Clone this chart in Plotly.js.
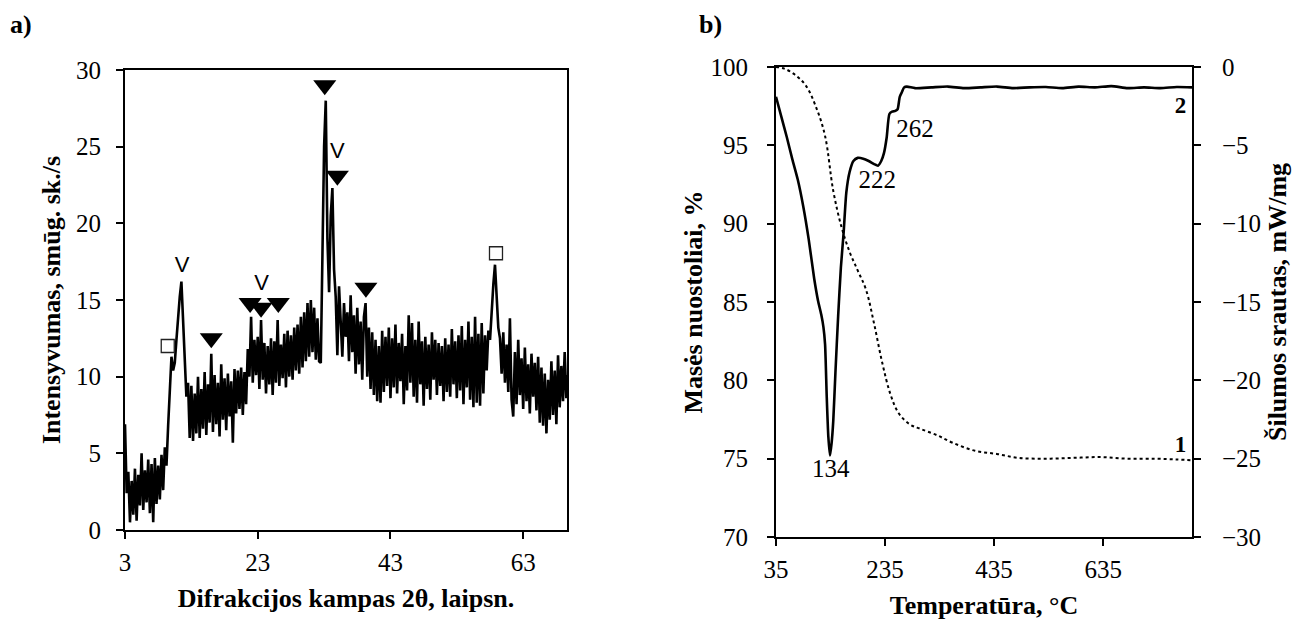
<!DOCTYPE html>
<html>
<head>
<meta charset="utf-8">
<script src="https://cdn.plot.ly/plotly-3.0.1.min.js"></script>
<style>html,body{margin:0;padding:0;background:#fff;}#chart{width:1292px;height:622px;}</style>
</head>
<body>
<div id="chart"></div>
<script>
// ---------- a) XRD data (2θ from 3° in 0.25° steps) ----------
const xrdStart = 3;
const xrdStep = 0.25;
const xrdIntensity = [
  6.9, 2.4, 3.8, 0.5, 3.2, 1.0, 4.0, 0.6, 3.6, 1.6,
  5.0, 1.3, 3.9, 1.8, 4.6, 1.1, 4.3, 0.5, 4.7, 1.7,
  4.2, 2.0, 4.9, 2.6, 5.4, 4.2, 6.8, 9.0, 11.3, 10.4,
  10.9, 12.4, 14.0, 15.2, 16.2, 13.4, 10.8, 8.7, 9.6, 6.0,
  9.4, 5.8, 8.9, 6.3, 10.0, 6.0, 9.2, 6.6, 10.3, 6.2,
  9.5, 7.0, 11.5, 6.4, 10.1, 6.9, 9.6, 6.1, 10.8, 7.2,
  9.9, 6.5, 10.2, 7.4, 9.7, 5.7, 10.5, 7.6, 10.4, 7.9,
  10.6, 7.5, 10.3, 8.2, 11.8, 10.0, 13.9, 9.6, 12.4, 10.1,
  12.6, 9.2, 13.7, 9.8, 12.2, 8.9, 12.0, 9.5, 12.5, 8.8,
  12.3, 9.6, 13.7, 9.4, 12.1, 9.9, 12.8, 9.3, 13.0, 10.0,
  12.7, 9.8, 13.2, 10.4, 13.4, 10.2, 13.9, 10.6, 14.2, 11.0,
  14.8, 11.3, 15.0, 11.6, 14.5, 11.1, 13.8, 11.0, 10.9, 17.0,
  25.0, 28.0, 19.0, 15.5, 20.5, 22.3, 17.0, 15.2, 11.4, 15.9,
  14.0, 11.3, 14.8, 12.6, 14.2, 11.0, 15.3, 11.6, 14.0, 10.2,
  14.5, 10.8, 13.6, 9.8, 13.9, 14.8, 10.0, 13.2, 9.2, 12.9,
  8.8, 12.4, 8.4, 12.0, 8.3, 13.0, 9.0, 12.6, 9.4, 13.2,
  8.6, 12.5, 9.3, 13.4, 8.9, 12.2, 9.7, 12.8, 8.2, 12.0,
  9.1, 14.0, 9.6, 13.5, 8.7, 12.4, 8.3, 13.6, 9.5, 12.3,
  8.1, 12.6, 9.2, 12.1, 8.5, 12.9, 9.8, 12.4, 8.8, 12.2,
  9.4, 12.0, 8.4, 12.5, 9.0, 12.1, 8.7, 13.1, 9.5, 12.3,
  8.6, 12.7, 9.1, 13.3, 8.2, 12.4, 9.3, 13.6, 8.5, 12.6,
  8.0, 13.9, 8.3, 12.8, 8.1, 13.5, 8.9, 12.7, 10.4, 13.0,
  12.4, 14.6, 16.0, 17.3, 15.4, 13.2, 12.5, 10.2, 12.9, 9.6,
  12.1, 9.0, 13.8, 8.5, 7.4, 11.6, 8.2, 12.4, 8.8, 11.2,
  7.9, 11.9, 8.4, 10.8, 7.6, 11.5, 8.7, 10.9, 7.8, 11.3,
  7.0, 10.6, 6.8, 10.2, 6.3, 9.8, 7.2, 11.0, 7.5, 10.4,
  6.9, 11.4, 8.0, 10.7, 8.4, 11.6, 8.6, 10.1, 9.4
];
const xrdAngle = xrdIntensity.map((_, i) => xrdStart + i * xrdStep);

const triangleX = [16.0, 21.85, 23.5, 26.1, 33.1, 35.0, 39.3];
const triangleY = [12.5, 14.8, 14.5, 14.8, 29.0, 23.1, 15.8];
const squareX = [9.44, 58.9];
const squareY = [12.0, 18.05];
const vMarkX = [11.6, 23.6, 35.0];
const vMarkY = [17.2, 16.0, 24.6];
const vMarkText = ['V', 'V', 'V'];

const xrdTickVals = [3, 23, 43, 63];
const xrdYTickVals = [0, 5, 10, 15, 20, 25, 30];

// ---------- b) thermal analysis data ----------
const tgTemp = [35, 50, 70, 90, 110, 125, 140, 155, 170, 185, 200, 215, 230, 245, 260,
  280, 300, 330, 360, 400, 440, 480, 530, 580, 630, 680, 730, 770, 798];
const tgMass = [100, 99.9, 99.5, 98.8, 97.3, 95.6, 92.1, 89.8, 88.2, 87.0, 85.8, 83.6, 81.1, 79.1, 77.9,
  77.2, 76.9, 76.5, 76.0, 75.5, 75.3, 75.05, 75.0, 75.05, 75.1, 75.0, 75.0, 74.95, 74.9];

const dscTemp = [35, 45, 55, 65, 75, 85, 95, 105, 112, 118, 122, 125, 128, 131, 134, 137, 140, 144,
  149, 154, 159, 164, 170, 177, 185, 195, 205, 215, 222, 228, 233, 238, 243, 248, 254, 258, 262,
  266, 270, 275, 290, 320, 350, 380, 410, 440, 470, 500, 530, 560, 590, 620, 650, 680, 710, 740, 770, 798];
const dscHeat = [-1.9, -3.2, -4.5, -5.9, -7.2, -8.9, -11.0, -13.5, -14.9, -15.8, -16.6, -17.7, -21.0,
  -23.6, -24.8, -24.0, -22.6, -19.5, -15.9, -12.8, -10.6, -8.0, -6.7, -6.0, -5.8, -5.85, -6.0, -6.2,
  -6.3, -6.0, -5.5, -4.5, -3.0, -2.85, -2.8, -2.7, -1.9, -1.6, -1.3, -1.25, -1.35, -1.3, -1.25, -1.35,
  -1.3, -1.25, -1.35, -1.3, -1.28, -1.35, -1.25, -1.3, -1.22, -1.35, -1.3, -1.35, -1.28, -1.3];

const peakLabelT = [135.4, 220.9, 290];
const peakLabelH = [-25.8, -7.3, -4.1];
const peakLabelText = ['134', '222', '262'];
const curveLabelT = [777, 777];
const curveLabelH = [-24.2, -2.6];
const curveLabelText = ['1', '2'];

const tempTickVals = [35, 235, 435, 635];
const massTickVals = [70, 75, 80, 85, 90, 95, 100];
const heatTickVals = [-30, -25, -20, -15, -10, -5, 0];

// ---------- styling ----------
const SERIF = 'Liberation Serif, Times New Roman, serif';
const tickFont = {family: SERIF, size: 25, color: '#000'};
const titleFont = {family: SERIF, size: 26, color: '#000', weight: 'bold'};
const W = 1292, H = 622;

const traces = [
  {x: xrdAngle, y: xrdIntensity, type: 'scatter', mode: 'lines', xaxis: 'x', yaxis: 'y',
   line: {color: '#000', width: 2.6}, hoverinfo: 'x+y', showlegend: false},
  {x: triangleX, y: triangleY, type: 'scatter', mode: 'markers', xaxis: 'x', yaxis: 'y',
   marker: {symbol: 'triangle-down', size: 20, color: '#000'}, showlegend: false},
  {x: squareX, y: squareY, type: 'scatter', mode: 'markers', xaxis: 'x', yaxis: 'y',
   marker: {symbol: 'square-open', size: 13, color: '#222', line: {width: 1.3}}, showlegend: false},
  {x: vMarkX, y: vMarkY, text: vMarkText, type: 'scatter', mode: 'text', xaxis: 'x', yaxis: 'y',
   textfont: {family: 'Liberation Sans, Arial, sans-serif', size: 22, color: '#000'}, showlegend: false},

  {x: tgTemp, y: tgMass, type: 'scatter', mode: 'lines', xaxis: 'x2', yaxis: 'y2',
   line: {color: '#000', width: 2, dash: 'dot', shape: 'spline'}, showlegend: false},
  {x: dscTemp, y: dscHeat, type: 'scatter', mode: 'lines', xaxis: 'x2', yaxis: 'y3',
   line: {color: '#000', width: 2.6, shape: 'spline', smoothing: 0.6}, showlegend: false},
  {x: peakLabelT, y: peakLabelH, text: peakLabelText, type: 'scatter', mode: 'text', xaxis: 'x2', yaxis: 'y3',
   textfont: {family: SERIF, size: 25, color: '#000'}, showlegend: false},
  {x: curveLabelT, y: curveLabelH, text: curveLabelText, type: 'scatter', mode: 'text', xaxis: 'x2', yaxis: 'y3',
   textfont: {family: SERIF, size: 23, color: '#000', weight: 'bold'}, showlegend: false}
];

const axisCommon = {
  showgrid: false, zeroline: false, showline: true, linecolor: '#000', linewidth: 2,
  ticks: 'outside', ticklen: 7, tickwidth: 2, tickcolor: '#000', tickfont: tickFont,
  fixedrange: true
};

const layout = {
  width: W, height: H,
  margin: {l: 0, r: 0, t: 0, b: 0},
  paper_bgcolor: '#fff', plot_bgcolor: '#fff',
  showlegend: false,
  font: {family: SERIF, color: '#000'},
  xaxis: Object.assign({}, axisCommon, {
    domain: [125 / W, 567 / W], anchor: 'y', range: [3, 69.6], mirror: true,
    tickvals: xrdTickVals, ticklabelstandoff: 2,
    title: {text: 'Difrakcijos kampas 2θ, laipsn.', font: titleFont, standoff: 14}
  }),
  yaxis: Object.assign({}, axisCommon, {
    domain: [1 - 530 / H, 1 - 70 / H], anchor: 'x', range: [0, 30], mirror: true,
    tickvals: xrdYTickVals, ticklabelstandoff: 10,
    title: {text: 'Intensyvumas, smūg. sk./s', font: titleFont, standoff: 8}
  }),
  xaxis2: Object.assign({}, axisCommon, {
    domain: [776 / W, 1192 / W], anchor: 'y2', range: [35, 798], mirror: true,
    tickvals: tempTickVals, ticklabelstandoff: 2,
    title: {text: 'Temperatūra, °C', font: titleFont, standoff: 14}
  }),
  yaxis2: Object.assign({}, axisCommon, {
    domain: [1 - 537 / H, 1 - 67 / H], anchor: 'x2', range: [70, 100],
    tickvals: massTickVals, ticklabelstandoff: 14,
    title: {text: 'Masės nuostoliai, %', font: titleFont, standoff: 0}
  }),
  yaxis3: Object.assign({}, axisCommon, {
    domain: [1 - 537 / H, 1 - 67 / H], anchor: 'x2', overlaying: 'y2', side: 'right',
    range: [-30, 0], tickvals: heatTickVals, ticklabelstandoff: 16,
    title: {text: 'Šilumos srautas, mW/mg', font: titleFont, standoff: 12}
  }),
  annotations: [
    {text: '<b>a)</b>', xref: 'paper', yref: 'paper', x: 8 / W, y: 1 - 24 / H,
     xanchor: 'left', yanchor: 'middle', showarrow: false, font: {family: SERIF, size: 26, color: '#000'}},
    {text: '<b>b)</b>', xref: 'paper', yref: 'paper', x: 697 / W, y: 1 - 24 / H,
     xanchor: 'left', yanchor: 'middle', showarrow: false, font: {family: SERIF, size: 26, color: '#000'}}
  ]
};

Plotly.newPlot('chart', traces, layout, {displayModeBar: false, staticPlot: true});
</script>
</body>
</html>
